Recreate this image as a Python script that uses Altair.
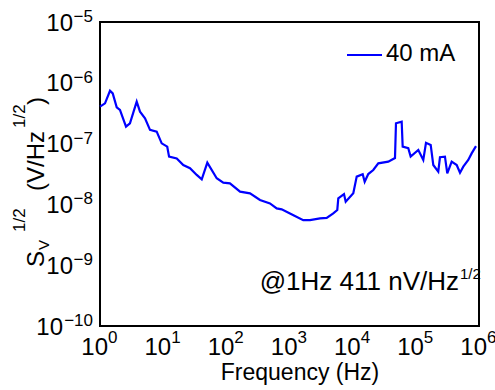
import altair as alt
import pandas as pd

# ---- data ----
freq = [1, 1.2, 1.44, 1.59, 1.84, 2.07, 2.58, 2.98, 3.81, 4.30,
        5.16, 6.19, 7.9, 9.48, 11.6, 12.4, 16.4, 20.8, 26.6, 34.0,
        40.8, 50.0, 70.4, 89.5, 114, 165, 237, 341, 491, 627,
        752, 1018, 1652, 2110, 3040, 3880, 4930, 5710, 5920, 7290,
        7760, 10230, 11590, 14420, 15500, 17660, 21200, 25460, 36640, 46770,
        48500, 59700, 61900, 75900, 82800, 109400, 131200, 144800, 171900, 188900,
        226600, 241100, 289100, 314500, 369500, 443600, 500400, 564000, 676000, 765000,
        896000]
sv = [4.05e-7, 4.6e-7, 7.4e-7, 6.7e-7, 3.95e-7, 3.57e-7, 1.90e-7, 2.16e-7, 4.89e-7, 3.35e-7,
      2.61e-7, 1.68e-7, 1.57e-7, 1.01e-7, 8.9e-8, 6.1e-8, 5.7e-8, 4.45e-8, 3.93e-8, 3.05e-8,
      2.59e-8, 4.85e-8, 2.69e-8, 2.28e-8, 2.22e-8, 1.62e-8, 1.52e-8, 1.18e-8, 1.04e-8, 8.6e-9,
      8.3e-9, 7.1e-9, 5.5e-9, 5.5e-9, 5.9e-9, 6.0e-9, 7.1e-9, 8.1e-9, 1.26e-8, 1.48e-8,
      1.11e-8, 1.52e-8, 2.86e-8, 3.13e-8, 2.36e-8, 3.16e-8, 3.68e-8, 4.74e-8, 5.04e-8, 5.8e-8,
      2.16e-7, 2.29e-7, 8.9e-8, 8.4e-8, 6.1e-8, 7.85e-8, 5.37e-8, 1.03e-7, 9.5e-8, 4.45e-8,
      3.45e-8, 5.96e-8, 6.1e-8, 3.25e-8, 5.04e-8, 4.45e-8, 3.32e-8, 4.17e-8, 5.37e-8, 6.9e-8,
      9.1e-8]
series_name = "40 mA"
annotation = "@1Hz 411 nV/Hz"

x_ticks = [1, 10, 100, 1e3, 1e4, 1e5, 1e6]
x_sup = ["0", "1", "2", "3", "4", "5", "6"]
y_ticks = [1e-10, 1e-9, 1e-8, 1e-7, 1e-6, 1e-5]
y_sup = ["\u221210", "\u22129", "\u22128", "\u22127", "\u22126", "\u22125"]

FONT = "Liberation Sans"
BLUE = "#0000ff"

df = pd.DataFrame({"f": freq, "sv": sv})
xdf = pd.DataFrame({"v": x_ticks, "s": x_sup})
ydf = pd.DataFrame({"v": y_ticks, "s": y_sup})
one = pd.DataFrame({"k": [0]})

xs = alt.Scale(type="log", domain=[1, 1e6])
ys = alt.Scale(type="log", domain=[1e-10, 1e-5])

line = alt.Chart(df).mark_line(color=BLUE, strokeWidth=2.2).encode(
    x=alt.X("f:Q", scale=xs, axis=None),
    y=alt.Y("sv:Q", scale=ys, axis=None),
)

# x tick labels: 10 + superscript
x10 = alt.Chart(xdf).mark_text(text="10", align="right", baseline="alphabetic",
                               fontSize=24, font=FONT, dx=8, color="black").encode(
    x=alt.X("v:Q", scale=xs, axis=None), y=alt.value(333))
xsup = alt.Chart(xdf).mark_text(align="left", baseline="alphabetic",
                                fontSize=17, font=FONT, dx=8, color="black").encode(
    x=alt.X("v:Q", scale=xs, axis=None), y=alt.value(321), text="s:N")

# y tick labels
y10a = alt.Chart(ydf).transform_filter("length(datum.s) < 3").mark_text(
    text="10", align="right", baseline="alphabetic", fontSize=24, font=FONT,
    dy=8.5, color="black").encode(
    y=alt.Y("v:Q", scale=ys, axis=None), x=alt.value(-27))
y10b = alt.Chart(ydf).transform_filter("length(datum.s) >= 3").mark_text(
    text="10", align="right", baseline="alphabetic", fontSize=24, font=FONT,
    dy=8.5, color="black").encode(
    y=alt.Y("v:Q", scale=ys, axis=None), x=alt.value(-37))
ysup = alt.Chart(ydf).mark_text(align="right", baseline="alphabetic",
                                fontSize=17, font=FONT, color="black").encode(
    y=alt.Y("v:Q", scale=ys, axis=None), x=alt.value(-7), text="s:N")


def label(txt, x, y, size, angle=0, align="left"):
    kw = dict(text=txt, align=align, baseline="alphabetic", fontSize=size,
              font=FONT, color="black")
    if angle:
        kw["angle"] = angle
    return alt.Chart(one).mark_text(**kw).encode(x=alt.value(x), y=alt.value(y))


# y-axis title  S_V^{1/2} (V/Hz^{1/2})
ytitle = [
    label("S", -56, 245, 24, 270),
    label("V", -51, 228, 15, 270),
    label("1/2", -75, 210, 17, 270),
    label("(V/Hz", -56, 169, 24, 270),
    label("1/2", -75, 106, 17, 270),
    label(")", -56, 83, 24, 270),
]

xtitle = label("Frequency (Hz)", 200, 358, 23, align="center")

# legend
leg_line = alt.Chart(one).mark_rule(color=BLUE, strokeWidth=2).encode(
    x=alt.value(247), x2=alt.value(282), y=alt.value(33))
leg_text = label(series_name, 286, 39, 24)

# annotation
ann = label(annotation, 359, 268, 26, align="right")
ann_sup = label("1/2", 360, 257, 15)

chart = alt.layer(
    line, x10, xsup, y10a, y10b, ysup, *ytitle, xtitle, leg_line, leg_text, ann, ann_sup
).properties(
    width=379, height=304,
    autosize=alt.AutoSizeParams(type="none"),
    padding={"left": 100, "top": 22, "right": 16, "bottom": 64},
    background="white",
).configure_view(stroke="black", strokeWidth=2)

chart.save("out.html", embed_options={"renderer": "svg", "actions": False})
